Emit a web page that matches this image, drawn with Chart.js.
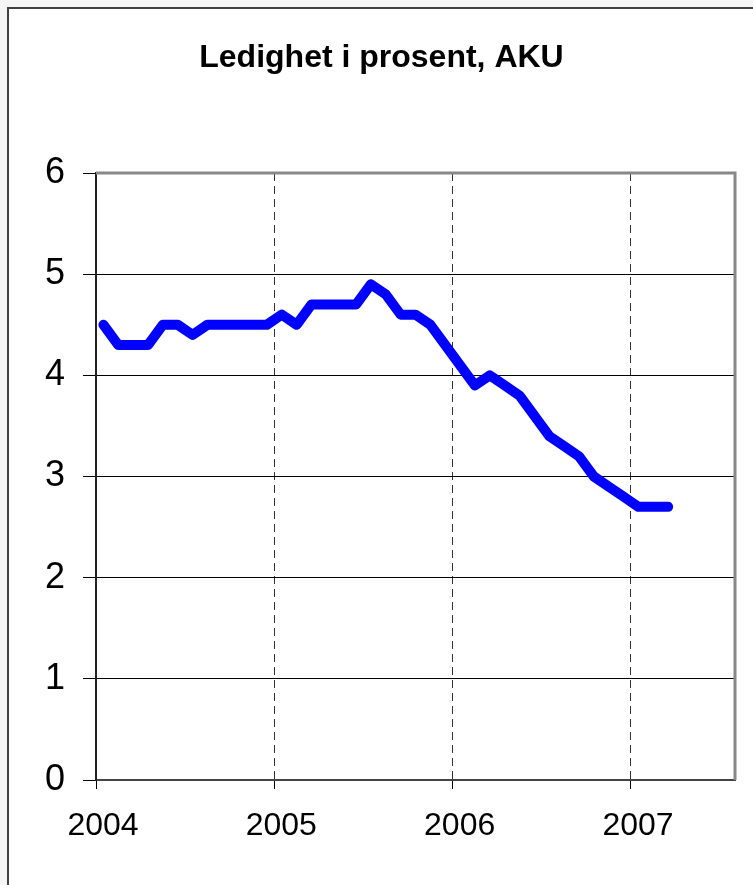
<!DOCTYPE html>
<html>
<head>
<meta charset="utf-8">
<title>Ledighet i prosent, AKU</title>
<script src="https://cdn.jsdelivr.net/npm/chart.js@4/dist/chart.umd.min.js"></script>
<style>
  html, body { margin: 0; padding: 0; background: #f5f5f5; }
  #wrap { position: absolute; left: 0; top: 0; width: 753px; height: 885px; }
</style>
</head>
<body>
<div id="wrap"><canvas id="chart" width="753" height="885"></canvas></div>
<script>
// Periods (month) and AKU unemployment rate, per cent
const PERIODS = [
  '2004-01','2004-02','2004-03','2004-04','2004-05','2004-06','2004-07','2004-08','2004-09','2004-10','2004-11','2004-12',
  '2005-01','2005-02','2005-03','2005-04','2005-05','2005-06','2005-07','2005-08','2005-09','2005-10','2005-11','2005-12',
  '2006-01','2006-02','2006-03','2006-04','2006-05','2006-06','2006-07','2006-08','2006-09','2006-10','2006-11','2006-12',
  '2007-01','2007-02','2007-03'
];
const LEDIGHET = [
  4.5, 4.3, 4.3, 4.3, 4.5, 4.5, 4.4, 4.5, 4.5, 4.5, 4.5, 4.5,
  4.6, 4.5, 4.7, 4.7, 4.7, 4.7, 4.9, 4.8, 4.6, 4.6, 4.5, 4.3,
  4.1, 3.9, 4.0, 3.9, 3.8, 3.6, 3.4, 3.3, 3.2, 3.0, 2.9, 2.8,
  2.7, 2.7, 2.7
];
const YEARS = ['2004', '2005', '2006', '2007'];
const Y_TICKS = [0, 1, 2, 3, 4, 5, 6];

const FONT = "Arial, 'Liberation Sans', Helvetica, sans-serif";
const BASE_YEAR = 2004;

// month index (mid-month) from '2004-01'
function monthPos(p) {
  const [y, m] = p.split('-').map(Number);
  return (y - BASE_YEAR) * 12 + (m - 1) + 0.5;
}

const points = PERIODS.map((p, i) => ({ x: monthPos(p), y: LEDIGHET[i] }));
const yearPos = YEARS.map(y => (Number(y) - BASE_YEAR) * 12);

// white frame + plot border like the original sheet
const framePlugin = {
  id: 'frame',
  beforeDraw(chart) {
    const { ctx, width, height } = chart;
    ctx.save();
    ctx.fillStyle = '#f5f5f5';
    ctx.fillRect(0, 0, width, height);
    ctx.fillStyle = '#ffffff';
    ctx.fillRect(8, 8, width, height);
    ctx.strokeStyle = '#404040';
    ctx.lineWidth = 2;
    ctx.strokeRect(8, 8, width + 10, height + 10);
    ctx.restore();
  },
  beforeDatasetsDraw(chart) {
    const { ctx, chartArea: a } = chart;
    ctx.save();
    ctx.strokeStyle = '#888888';
    ctx.lineWidth = 3;
    ctx.beginPath();
    ctx.moveTo(a.left, a.top);
    ctx.lineTo(a.right, a.top);
    ctx.lineTo(a.right, a.bottom);
    ctx.stroke();
    ctx.restore();
  }
};

new Chart(document.getElementById('chart'), {
  type: 'line',
  data: {
    datasets: [{
      label: 'Ledighet',
      data: points,
      borderColor: '#0000ff',
      borderWidth: 10,
      borderCapStyle: 'round',
      borderJoinStyle: 'round',
      pointRadius: 0,
      tension: 0,
      fill: false,
    }],
  },
  options: {
    responsive: false,
    animation: false,
    devicePixelRatio: 1,
    layout: { padding: { left: 28, right: 18, top: 0, bottom: 0 } },
    plugins: {
      legend: { display: false },
      tooltip: { enabled: false },
      title: {
        display: true,
        text: 'Ledighet i prosent, AKU',
        color: '#000',
        font: { family: FONT, size: 32, weight: 'bold' },
        padding: { top: 39, bottom: 95.6 },
      },
    },
    scales: {
      x: {
        type: 'linear',
        min: 0,
        max: 43,
        afterBuildTicks: s => { s.ticks = yearPos.map(v => ({ value: v })); },
        afterFit: s => { s.height = 105; },
        ticks: {
          callback: (v, i) => YEARS[i],
          color: '#000',
          font: { family: FONT, size: 32 },
          padding: 18,
          labelOffset: 7,
          maxRotation: 0,
          autoSkip: false,
        },
        grid: {
          color: c => (c.tick && c.tick.value === 0) ? 'rgba(0,0,0,0)' : '#333',
          lineWidth: 1,
          tickLength: 9,
          tickColor: '#000',
          tickWidth: 1,
        },
        border: { display: true, color: '#444', width: 2, dash: [8, 5] },
      },
      y: {
        min: 0,
        max: 6,
        afterBuildTicks: s => { s.ticks = Y_TICKS.map(v => ({ value: v })); },
        afterFit: s => { s.width = 68; },
        ticks: {
          color: '#000',
          font: { family: FONT, size: 36 },
          padding: 18,
        },
        grid: {
          color: c => (c.tick && c.tick.value === 6) ? '#888' : '#000',
          lineWidth: 1,
          tickLength: 13,
          tickColor: '#000',
          tickWidth: 1,
        },
        border: { display: true, color: '#222', width: 2 },
      },
    },
  },
  plugins: [framePlugin],
});
</script>
</body>
</html>
